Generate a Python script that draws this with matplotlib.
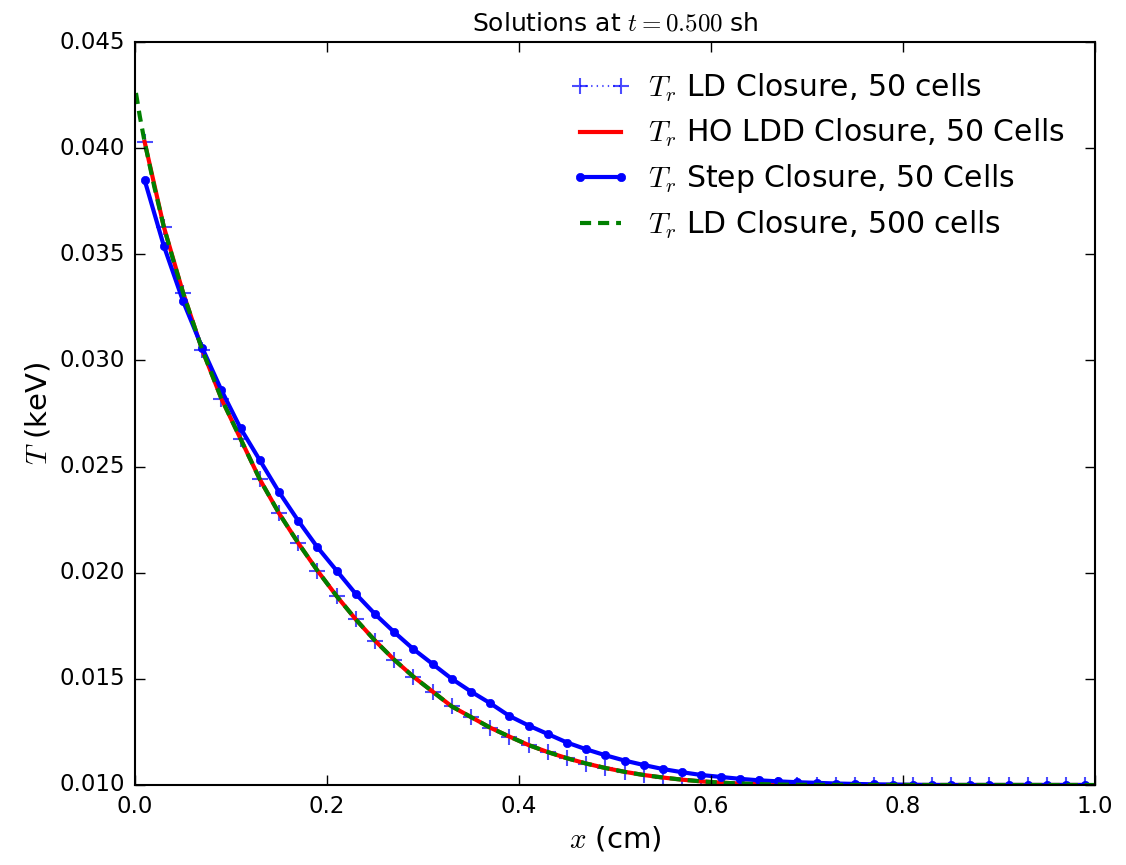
import numpy as np
import matplotlib
matplotlib.use("Agg")
import matplotlib.pyplot as plt

# cell centres, 50 cells on [0, 1] cm
x50 = np.linspace(0.01, 0.99, 50)

# LD closure, 50 cells
T_ld50 = [0.0403, 0.0363, 0.0332, 0.0305, 0.0282, 0.0263, 0.0244, 0.0228,
          0.0214, 0.0201, 0.0189, 0.0178, 0.0168, 0.0159, 0.0151, 0.0144,
          0.0137, 0.0132, 0.0127, 0.01228, 0.01188, 0.01155, 0.01126, 0.01101,
          0.0108, 0.01062, 0.01047, 0.01035, 0.01025, 0.01017, 0.01011, 0.01007,
          0.01004, 0.01002, 0.01001,
          0.0100, 0.0100, 0.0100, 0.0100, 0.0100, 0.0100, 0.0100, 0.0100,
          0.0100, 0.0100, 0.0100, 0.0100, 0.0100, 0.0100, 0.0100]

# HO LDD closure, 50 cells
T_hoLDD = [0.0403, 0.0363, 0.0332, 0.0305, 0.0282, 0.0263, 0.0244, 0.0228,
           0.0214, 0.0201, 0.0189, 0.0178, 0.0168, 0.0159, 0.0151, 0.0144,
           0.0137, 0.0132, 0.0127, 0.01228, 0.01188, 0.01155, 0.01126, 0.01101,
           0.0108, 0.01062, 0.01047, 0.01035, 0.01025, 0.01017, 0.01011, 0.01007,
           0.01004, 0.01002, 0.01001,
           0.0100, 0.0100, 0.0100, 0.0100, 0.0100, 0.0100, 0.0100, 0.0100,
           0.0100, 0.0100, 0.0100, 0.0100, 0.0100, 0.0100, 0.0100]

# Step closure, 50 cells
T_step = [0.0385, 0.0354, 0.0328, 0.0306, 0.0286, 0.0268, 0.0253, 0.0238,
          0.02245, 0.0212, 0.0201, 0.0190, 0.01805, 0.0172, 0.0164, 0.0157,
          0.0150, 0.0144, 0.01385, 0.01325, 0.0128, 0.0124, 0.0120, 0.01168,
          0.0114, 0.01115, 0.01094, 0.01075, 0.0106, 0.01047, 0.01038, 0.01029,
          0.01022, 0.01017, 0.01013, 0.0101, 0.01007, 0.01005, 0.01003, 0.01002,
          0.01001,
          0.0100, 0.0100, 0.0100, 0.0100, 0.0100, 0.0100, 0.0100, 0.0100, 0.0100]

# LD closure, 500 cells (sampled along the fine curve)
x500 = [0.001, 0.005, 0.01, 0.02, 0.03, 0.04, 0.05, 0.07, 0.09, 0.11, 0.13,
        0.15, 0.17, 0.19, 0.21, 0.23, 0.25, 0.27, 0.29, 0.31, 0.33, 0.35,
        0.37, 0.39, 0.41, 0.43, 0.45, 0.47, 0.49, 0.51, 0.53, 0.55, 0.57,
        0.59, 0.61, 0.63, 0.65, 0.67, 0.69, 0.75, 0.85, 0.95, 0.999]
T_ld500 = [0.0426, 0.0415, 0.0403, 0.0382, 0.0363, 0.0347, 0.0332, 0.0305,
           0.0282, 0.0263, 0.0244, 0.0228, 0.0214, 0.0201, 0.0189, 0.0178,
           0.0168, 0.0159, 0.0151, 0.0144, 0.0137, 0.0132, 0.0127, 0.01228,
           0.01188, 0.01155, 0.01126, 0.01101, 0.0108, 0.01062, 0.01047,
           0.01035, 0.01025, 0.01017, 0.01011, 0.01007, 0.01004, 0.01002,
           0.01001, 0.0100, 0.0100, 0.0100, 0.0100]

plt.style.use("classic")
plt.rcParams["mathtext.fontset"] = "cm"

fig = plt.figure(figsize=(11.26, 8.65), dpi=100, facecolor="white")
ax = fig.add_axes([0.1199, 0.0925, 0.8526, 0.8589])

ax.plot(x50, T_ld50, "b:+", lw=1.5, ms=11, mew=1.5, alpha=0.7,
        label=r"$T_r$ LD Closure, 50 cells")
ax.plot(x50, T_hoLDD, "r-", lw=3,
        label=r"$T_r$ HO LDD Closure, 50 Cells")
ax.plot(x50, T_step, "b.-", lw=3, ms=12,
        label=r"$T_r$ Step Closure, 50 Cells")
ax.plot(x500, T_ld500, "g--", lw=3, dashes=(8, 5),
        label=r"$T_r$ LD Closure, 500 cells")

ax.set_xlim(0.0, 1.0)
ax.set_ylim(0.010, 0.045)
ax.set_xticks([0.0, 0.2, 0.4, 0.6, 0.8, 1.0])
ax.set_yticks([0.010, 0.015, 0.020, 0.025, 0.030, 0.035, 0.040, 0.045])
ax.yaxis.set_major_formatter(matplotlib.ticker.FormatStrFormatter("%.3f"))
ax.xaxis.set_major_formatter(matplotlib.ticker.FormatStrFormatter("%.1f"))
ax.tick_params(labelsize=16.5, length=7, width=1, pad=7)
for s in ax.spines.values():
    s.set_linewidth(1.5)

ax.set_xlabel(r"$x$ (cm)", fontsize=21)
ax.set_ylabel(r"$T$ (keV)", fontsize=21)
ax.set_title(r"Solutions at $t=0.500$ sh", fontsize=18, pad=8)

ax.legend(loc="upper right", frameon=False, fontsize=21.5, numpoints=2,
          labelspacing=0.44, handlelength=2.0, handletextpad=0.6,
          borderaxespad=0.6)

fig.savefig("out.png", dpi=100, facecolor="white")
